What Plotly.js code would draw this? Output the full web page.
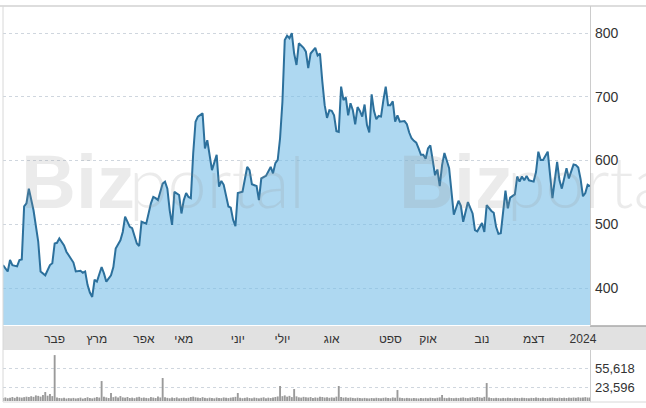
<!DOCTYPE html>
<html>
<head>
<meta charset="utf-8">
<script src="https://cdn.plot.ly/plotly-3.0.1.min.js"></script>
<style>
  html, body { margin: 0; padding: 0; background: #ffffff; }
  #chart { width: 646px; height: 408px; }
</style>
</head>
<body>
<div id="chart"></div>
<script>
// ---- data (trading-day index, 2023) ----
const priceDays = [0,2,3,4,6,7,8,9,10,11,13,14,15,16,18,20,21,22,23,24,26,27,29,30,31,33,34,35,36,37,38,39,40,41,42,43,44,46,47,48,50,51,52,54,55,57,58,59,61,63,64,65,66,68,69,70,71,72,73,75,76,77,78,79,80,81,82,83,85,86,87,89,91,92,93,94,96,97,98,99,100,102,104,105,106,108,109,110,112,114,115,116,117,118,119,120,121,122,123,124,125,126,128,129,130,131,133,134,135,136,137,138,139,140,141,142,143,144,145,146,147,148,149,150,151,152,153,154,155,156,157,158,159,160,161,162,163,164,165,166,167,168,169,171,172,173,174,175,176,177,178,179,180,181,182,183,184,185,186,187,188,190,191,192,194,195,196,198,200,201,202,204,205,206,208,209,210,211,212,213,214,215,216,218,219,220,221,222,223,224,226,227,228,229,230,232,233,234,236,237,238,239,240,241,242,243,244,245,246,247,248,249,250];
const prices = [436,426,444,436,434,444,445,528,533,556,522,494,473,426,420,436,439,470,471,478,467,457,446,440,426,427,424,426,405,393,386,413,410,420,433,423,410,420,433,462,475,488,512,496,494,470,466,504,501,533,543,541,538,564,567,556,522,499,551,546,517,538,549,543,541,611,661,669,674,619,632,585,609,559,568,562,528,526,507,497,549,551,590,585,563,560,538,572,576,590,580,596,601,635,692,789,796,792,800,768,750,784,777,771,745,768,777,765,768,724,687,667,679,678,671,646,645,716,695,699,671,690,679,657,684,678,669,688,656,644,704,678,665,670,669,695,716,687,687,693,661,671,661,662,657,644,635,631,628,619,609,609,603,619,624,601,577,586,560,593,612,588,546,515,537,529,504,535,517,491,489,502,488,530,521,518,496,485,486,517,553,525,542,547,575,567,575,569,576,569,567,582,614,601,601,614,577,541,598,569,556,572,588,572,582,594,593,589,571,544,549,562,560];

const volumes = [
  5200,6100,4800,5600,6900,5400,7200,6300,5800,6600,
  7400,6800,8200,7100,9600,8800,7500,10200,15400,9100,
  12000,8400,78700,6200,5100,4700,5500,4300,5000,4600,
  5300,4400,4900,5800,4200,5100,6400,5200,4500,5600,
  6800,5900,34200,7300,6100,5200,13700,6600,7800,5900,
  8400,6200,5700,6900,5100,5800,4900,6300,7100,5400,
  6000,5300,4800,6700,5900,5200,7600,6100,39400,6500,
  5400,4700,5900,5100,6200,4600,5300,5700,4900,5500,
  6800,7400,6300,5800,5100,6600,5400,4800,5700,5200,
  4600,5900,5300,4900,6100,5500,5000,5800,6400,7100,
  13700,5600,4800,5400,6200,5100,4700,5900,5300,4600,
  5500,6300,4900,5700,5200,6000,6900,7800,25700,8300,
  9600,7400,8800,6700,20500,7900,6300,5800,7100,6400,
  5900,6700,5300,6100,5600,7300,6800,5900,6400,5500,
  6200,5700,7400,25700,6900,5800,6300,5400,6000,5300,
  4800,5600,5100,4700,5300,4900,4500,5200,4800,5500,
  5000,4600,5400,5900,5200,4800,6100,5600,18800,5700,
  5100,4700,5300,4900,4600,5200,4800,4400,5000,4700,
  5300,4900,5600,5100,4800,5500,6200,10300,5400,4900,
  5700,5200,4800,5400,5000,5600,6100,5300,4900,5800,
  6400,5700,6900,6200,5500,7100,30800,5900,5200,4800,
  5400,5000,4700,5300,4900,5600,5100,4800,5500,5200,
  4900,5600,5300,5000,4700,5400,5100,5800,5300,4900,
  5600,5200,4800,5500,5900,5300,4900,5700,5200,5600,
  5100,5800,5400,6000,5500,6300,5700,6100,6600,5900,
  6200
];
const volumeDays = volumes.map((v, i) => i);

const monthLabels = ['פבר','מרץ','אפר','מאי','יוני','יולי','אוג','ספט','אוק','נוב','דצמ','2024'];
const monthDays   = [22, 40, 60, 77, 100, 119, 140, 165, 181, 204, 226, 247];

const priceTicks = [400, 500, 600, 700, 800];
const volumeTicks = [23596, 55618];
const volumeTickText = ['23,596', '55,618'];

// ---- layout helpers (pixel -> paper) ----
const W = 646, H = 408, L = 3, R = 56;
const PW = W - L - R;
const py = p => 1 - p / H;
const px = p => (p - L) / PW;

const traces = [
  {
    x: priceDays, y: prices, type: 'scatter', mode: 'lines',
    xaxis: 'x', yaxis: 'y',
    line: { color: '#2c709c', width: 2 },
    fill: 'tozeroy', fillcolor: 'rgba(120,190,232,0.6)',
    hoverinfo: 'skip'
  },
  {
    x: volumeDays, y: volumes, type: 'bar',
    xaxis: 'x2', yaxis: 'y2',
    marker: { color: '#9a9a9a', line: { width: 0 } },
    hoverinfo: 'skip'
  }
];

const wmColor = 'rgba(150,150,150,0.19)';
const wm = (x, text, weight, family, size) => ({
  xref: 'paper', yref: 'paper', x: px(x), y: py(181), xanchor: 'left', yanchor: 'middle',
  text: text, showarrow: false, borderpad: 0,
  font: { size: size, color: wmColor, family: family, weight: weight }
});

const layout = {
  width: W, height: H,
  margin: { l: L, r: R, t: 0, b: 0, pad: 0 },
  paper_bgcolor: '#ffffff', plot_bgcolor: 'rgba(0,0,0,0)',
  showlegend: false,
  bargap: 0.2,
  font: { family: 'Arial, "Liberation Sans", sans-serif', color: '#333333' },
  xaxis: {
    domain: [0, 1], range: [0, 250], anchor: 'y',
    showgrid: false, zeroline: false, showline: false,
    tickmode: 'array', tickvals: monthDays, ticktext: monthLabels,
    ticks: '', tickfont: { size: 12, color: '#333333' },
    ticklabelstandoff: 5, fixedrange: true
  },
  yaxis: {
    domain: [py(325), py(7)], range: [342, 841], anchor: 'x',
    side: 'right', tickmode: 'array', tickvals: priceTicks,
    ticks: '', tickfont: { size: 14, color: '#333333' },
    showgrid: true, gridcolor: '#cfd6de', griddash: 'dot', gridwidth: 1,
    zeroline: false, showline: false, ticklabelstandoff: 4, fixedrange: true
  },
  xaxis2: {
    domain: [0, 1], range: [0, 250], anchor: 'y2',
    showgrid: false, zeroline: false, showline: false,
    showticklabels: false, ticks: '', fixedrange: true
  },
  yaxis2: {
    domain: [py(401), py(352)], range: [0, 84000], anchor: 'x2',
    side: 'right', tickmode: 'array', tickvals: volumeTicks, ticktext: volumeTickText,
    ticks: '', tickfont: { size: 13, color: '#333333' },
    showgrid: true, gridcolor: '#cfd6de', griddash: 'dot', gridwidth: 1,
    zeroline: false, showline: false, ticklabelstandoff: 4, fixedrange: true
  },
  shapes: [
    { type: 'rect', xref: 'paper', yref: 'paper', x0: px(3), x1: px(646), y0: py(350), y1: py(326),
      fillcolor: '#e1e1e1', line: { width: 0 }, layer: 'below' },
    { type: 'line', xref: 'paper', yref: 'paper', x0: px(590), x1: px(646), y0: py(326), y1: py(326),
      line: { color: '#a9a9a9', width: 1.5 } },
    { type: 'line', xref: 'paper', yref: 'paper', x0: px(0), x1: px(646), y0: py(6), y1: py(6),
      line: { color: '#d2d2d2', width: 1.5 } },
    { type: 'line', xref: 'paper', yref: 'paper', x0: px(3), x1: px(3), y0: py(402), y1: py(6),
      line: { color: '#d8d8d8', width: 1 } },
    { type: 'line', xref: 'paper', yref: 'paper', x0: px(590.5), x1: px(590.5), y0: py(326), y1: py(6),
      line: { color: '#cccccc', width: 1 } },
    { type: 'line', xref: 'paper', yref: 'paper', x0: px(590.5), x1: px(590.5), y0: py(402), y1: py(350),
      line: { color: '#cccccc', width: 1 } },
    { type: 'line', xref: 'paper', yref: 'paper', x0: px(3), x1: px(646), y0: py(402), y1: py(402),
      line: { color: '#d8d8d8', width: 1 } }
  ],
  annotations: [
    wm(20, 'Biz', 'bold', 'Arial, "Liberation Sans", sans-serif', 76),
    wm(128, 'portal', 300, 'Lato, "Open Sans", sans-serif', 70),
    wm(398, 'Biz', 'bold', 'Arial, "Liberation Sans", sans-serif', 76),
    wm(506, 'portal', 300, 'Lato, "Open Sans", sans-serif', 70)
  ]
};

Plotly.newPlot('chart', traces, layout, { staticPlot: true, displayModeBar: false });
</script>
</body>
</html>
